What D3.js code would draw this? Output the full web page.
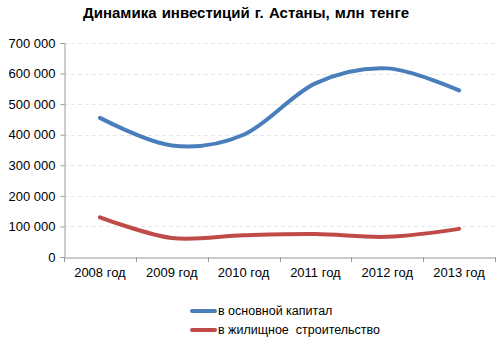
<!DOCTYPE html>
<html>
<head>
<meta charset="utf-8">
<script src="https://cdn.jsdelivr.net/npm/d3@7"></script>
<style>
  html, body { margin: 0; padding: 0; background: #fff; }
  svg { display: block; font-family: "Liberation Sans", Arial, sans-serif; }
  text { white-space: pre; }
</style>
</head>
<body>
<svg id="chart" width="499" height="340"></svg>
<script>
// Investment dynamics, Astana, mln tenge
const years = ["2008 год", "2009 год", "2010 год", "2011 год", "2012 год", "2013 год"];
const fixedCapital = [455000, 365000, 400000, 568000, 617000, 545000];
const housing = [130000, 62000, 71000, 75000, 66000, 92000];
const yTicks = [0, 100000, 200000, 300000, 400000, 500000, 600000, 700000];
const seriesNames = ["в основной капитал", "в жилищное  строительство"];
const seriesColors = ["#4a7ebb", "#be4b48"];

const svg = d3.select("#chart");
const margin = { left: 64, right: 4, top: 43, bottom: 83 };
const W = 499, H = 340;

const x = d3.scaleBand().domain(years).range([margin.left, W - margin.right]);
const y = d3.scaleLinear().domain([0, 700000]).range([H - margin.bottom, margin.top]);

const fmt = v => d3.format(",")(v).replace(/,/g, " ");

// title
svg.append("text")
  .attr("x", 246).attr("y", 18)
  .attr("text-anchor", "middle")
  .style("font-size", "15px").style("font-weight", "bold")
  .style("word-spacing", "1px")
  .attr("fill", "#000")
  .text("Динамика инвестиций г. Астаны, млн тенге");

// gridlines
svg.append("g").selectAll("line")
  .data(yTicks.filter(d => d > 0))
  .join("line")
  .attr("x1", margin.left).attr("x2", W - margin.right)
  .attr("y1", d => Math.round(y(d)) + 0.5).attr("y2", d => Math.round(y(d)) + 0.5)
  .attr("stroke", "#e3e7ec").attr("stroke-dasharray", "4,3");

// y axis
const yAxis = svg.append("g")
  .attr("transform", `translate(${margin.left + 0.5},0)`)
  .call(d3.axisLeft(y).tickValues(yTicks).tickFormat(fmt).tickSize(4).tickPadding(5));
yAxis.select(".domain").attr("stroke", "#9a9a9a");
yAxis.selectAll(".tick line").attr("stroke", "#9a9a9a");
yAxis.selectAll(".tick text").style("font-size", "13px").attr("fill", "#000")
  .attr("font-family", "Liberation Sans, Arial, sans-serif");

// x axis
const xAxis = svg.append("g")
  .attr("transform", `translate(0,${Math.round(y(0)) + 0.5})`)
  .call(d3.axisBottom(x).tickSize(0).tickPadding(10));
xAxis.select(".domain").attr("stroke", "#9a9a9a");
xAxis.selectAll(".tick text").style("font-size", "13px").attr("fill", "#000")
  .attr("font-family", "Liberation Sans, Arial, sans-serif");
// category separators
svg.append("g").selectAll("line")
  .data(years.map(d => x(d)).concat([x(years[years.length - 1]) + x.bandwidth()]))
  .join("line")
  .attr("x1", d => Math.round(d) + 0.5).attr("x2", d => Math.round(d) + 0.5)
  .attr("y1", Math.round(y(0))).attr("y2", Math.round(y(0)) + 5)
  .attr("stroke", "#9a9a9a");

// lines
const line = d3.line()
  .x((d, i) => x(years[i]) + x.bandwidth() / 2)
  .y(d => y(d))
  .curve(d3.curveCardinal.tension(0));

[fixedCapital, housing].forEach((s, i) => {
  svg.append("path")
    .datum(s)
    .attr("d", line)
    .attr("fill", "none")
    .attr("stroke", seriesColors[i])
    .attr("stroke-width", 4)
    .attr("stroke-linecap", "round");
});

// legend
const legend = svg.append("g");
seriesNames.forEach((name, i) => {
  const ly = 311 + i * 19;
  legend.append("line")
    .attr("x1", 192).attr("x2", 215).attr("y1", ly).attr("y2", ly)
    .attr("stroke", seriesColors[i]).attr("stroke-width", 4).attr("stroke-linecap", "round");
  legend.append("text")
    .attr("x", 218).attr("y", ly + 4)
    .style("font-size", "12.5px").attr("fill", "#000")
    .text(name);
});
</script>
</body>
</html>
